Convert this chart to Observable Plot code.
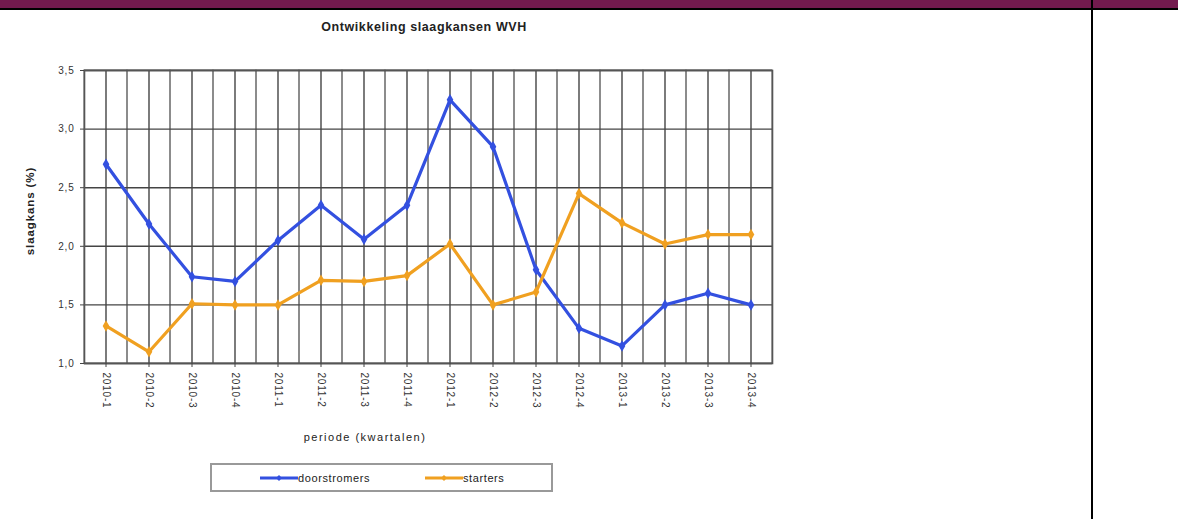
<!DOCTYPE html>
<html>
<head>
<meta charset="utf-8">
<script src="https://cdn.jsdelivr.net/npm/d3@7"></script>
<script src="https://cdn.jsdelivr.net/npm/@observablehq/plot@0.6"></script>
<style>
  html, body { margin: 0; padding: 0; background: #fff; }
  #page { position: relative; width: 1178px; height: 519px; overflow: hidden; font-family: "Liberation Sans", Arial, sans-serif; }
  #topbar { position: absolute; left: 0; top: 0; width: 1178px; height: 8px; background: #731a4e; }
  #topline { position: absolute; left: 0; top: 8px; width: 1178px; height: 2px; background: #000; }
  #vline { position: absolute; left: 1091px; top: 0; width: 2px; height: 519px; background: #000; }
  #title { position: absolute; left: 174px; width: 500px; top: 20px; text-align: center; font-size: 12.5px; letter-spacing: 0.6px; font-weight: bold; color: #222; }
  #chart { position: absolute; left: 0; top: 0; }
  #chart svg text { letter-spacing: 0.8px; }
  #xlabel { position: absolute; left: 215px; width: 300px; top: 431px; text-align: center; font-size: 11px; letter-spacing: 1.5px; color: #222; }
  #ylabel { position: absolute; left: -40px; top: 205px; width: 140px; text-align: center; font-size: 11.5px; letter-spacing: 0.9px; font-weight: bold; color: #222; transform: rotate(-90deg); }
  #legend { position: absolute; left: 210px; top: 463px; width: 343px; height: 29px; border: 2px solid #999; box-sizing: border-box; font-size: 11px; letter-spacing: 0.6px; color: #222; }
  .item { position: absolute; top: 7px; display: flex; align-items: center; }
</style>
</head>
<body>
<div id="page">
  <div id="topbar"></div>
  <div id="topline"></div>
  <div id="vline"></div>
  <div id="title">Ontwikkeling slaagkansen WVH</div>
  <div id="chart"></div>
  <div id="ylabel">slaagkans (%)</div>
  <div id="xlabel">periode (kwartalen)</div>
  <div id="legend"></div>
</div>
<script>
const quarters = ["2010-1","2010-2","2010-3","2010-4","2011-1","2011-2","2011-3","2011-4","2012-1","2012-2","2012-3","2012-4","2013-1","2013-2","2013-3","2013-4"];
const doorstromers = [2.70, 2.19, 1.74, 1.70, 2.05, 2.35, 2.06, 2.35, 3.25, 2.85, 1.80, 1.30, 1.15, 1.50, 1.60, 1.50];
const starters = [1.32, 1.10, 1.51, 1.50, 1.50, 1.71, 1.70, 1.75, 2.02, 1.50, 1.61, 2.45, 2.20, 2.02, 2.10, 2.10];
const seriesNames = ["doorstromers", "starters"];
const seriesColors = ["#3350e0", "#f0a020"];
const yTicks = [1.0, 1.5, 2.0, 2.5, 3.0, 3.5];

const rows = [];
quarters.forEach((q, i) => {
  rows.push({q, v: doorstromers[i], s: seriesNames[0]});
  rows.push({q, v: starters[i], s: seriesNames[1]});
});

const fmt = d => d.toFixed(1).replace(".", ",");

const chart = Plot.plot({
  width: 790,
  height: 420,
  marginLeft: 84,
  marginRight: 18,
  marginTop: 70,
  marginBottom: 57,
  style: { fontFamily: "Liberation Sans, Arial, sans-serif", fontSize: "10px", color: "#333", background: "transparent" },
  x: { type: "band", domain: quarters, padding: 0, label: null },
  y: { domain: [1, 3.5], ticks: yTicks, label: null },
  color: { domain: seriesNames, range: seriesColors },
  marks: [
    Plot.cell(quarters, { x: d => d, fill: "none", stroke: "#666", strokeWidth: 1 }),
    Plot.gridX(quarters, { stroke: "#444", strokeOpacity: 1, strokeWidth: 1.4 }),
    Plot.gridY(yTicks, { stroke: "#444", strokeOpacity: 1, strokeWidth: 1.4 }),
    Plot.frame({ stroke: "#555", strokeWidth: 1.6 }),
    Plot.axisY(yTicks, { tickFormat: fmt, tickSize: 4, tickPadding: 6, fontSize: 10, stroke: "#444" }),
    Plot.axisX(quarters, { tickRotate: 90, tickSize: 4, tickPadding: 5, fontSize: 10, stroke: "#444" }),
    Plot.line(rows, { x: "q", y: "v", z: "s", stroke: "s", strokeWidth: 3.2 }),
    Plot.dot(rows, { x: "q", y: "v", fill: "s", symbol: "diamond", r: 3.5 })
  ]
});
document.getElementById("chart").appendChild(chart);

// legend
const legend = document.getElementById("legend");
const lefts = [48, 213];
seriesNames.forEach((name, i) => {
  const div = document.createElement("div");
  div.className = "item";
  div.style.left = lefts[i] + "px";
  const NS = "http://www.w3.org/2000/svg";
  const svg = document.createElementNS(NS, "svg");
  svg.setAttribute("width", 38); svg.setAttribute("height", 8);
  const ln = document.createElementNS(NS, "line");
  ln.setAttribute("x1", 0); ln.setAttribute("x2", 38); ln.setAttribute("y1", 4); ln.setAttribute("y2", 4);
  ln.setAttribute("stroke", seriesColors[i]); ln.setAttribute("stroke-width", 3);
  svg.appendChild(ln);
  const dm = document.createElementNS(NS, "path");
  dm.setAttribute("d", "M19,1 L22,4 L19,7 L16,4 Z"); dm.setAttribute("fill", seriesColors[i]);
  svg.appendChild(dm);
  div.appendChild(svg);
  const t = document.createElement("span");
  t.textContent = name;
  div.appendChild(t);
  legend.appendChild(div);
});
</script>
</body>
</html>
